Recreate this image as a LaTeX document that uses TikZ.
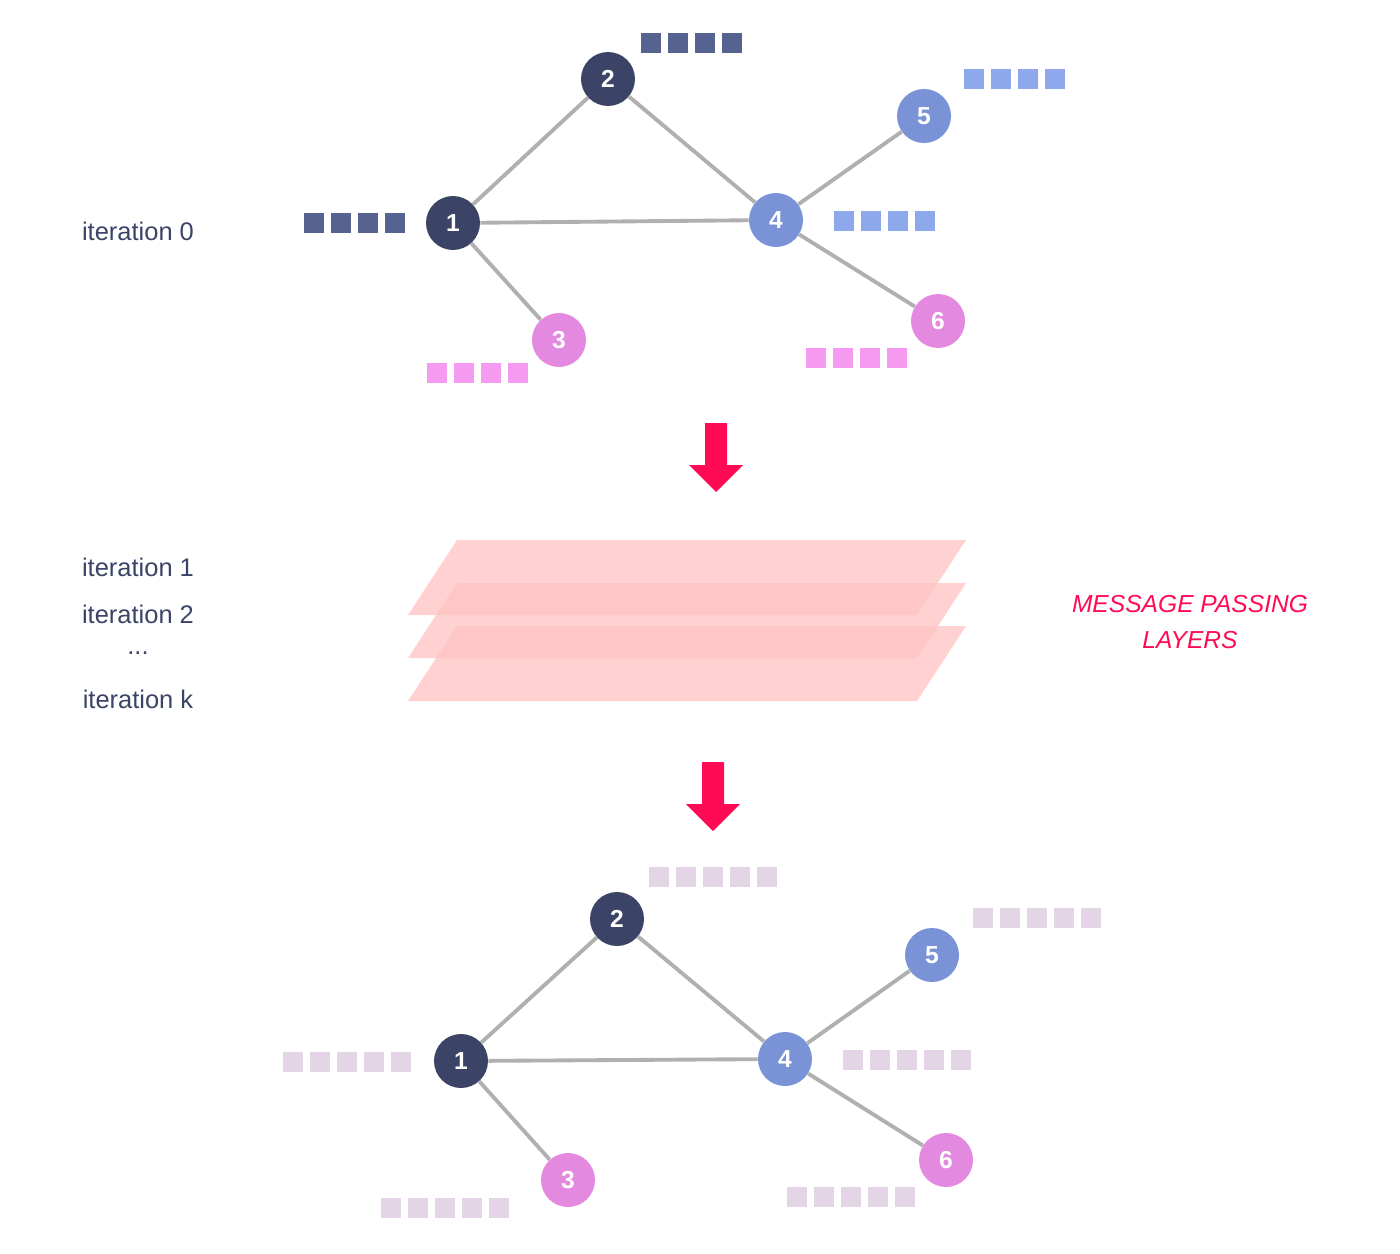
\documentclass[tikz,border=0pt]{standalone}
\usepackage{fontspec}
\setmainfont{Liberation Sans}
\definecolor{navy}{HTML}{3B4466}
\definecolor{mblue}{HTML}{7A93D6}
\definecolor{mpink}{HTML}{E38AE0}
\definecolor{sqnavy}{HTML}{56628F}
\definecolor{sqblue}{HTML}{8EA8EC}
\definecolor{sqpink}{HTML}{F59AF0}
\definecolor{sqlight}{HTML}{E3D5E6}
\definecolor{edgegray}{HTML}{B0B0B0}
\definecolor{hotred}{HTML}{FF0A54}
\definecolor{plane}{HTML}{FFC2C2}
\begin{document}
\begin{tikzpicture}[x=0.02cm, y=-0.02cm,
    vertex/.style={circle, minimum size=1.08cm, inner sep=0pt, text=white, font=\bfseries\fontsize{14}{16}\selectfont},
    edge/.style={draw=edgegray, line width=2.2pt},
    sq/.style={minimum size=0.4cm, inner sep=0pt},
    lbl/.style={text=navy, font=\fontsize{14.5}{17}\selectfont},
    layer/.style={fill=plane, fill opacity=0.75, draw=none},
    bigarrow/.style={fill=hotred, draw=none}]
    \useasboundingbox (0,0) rectangle (1400,1254);

    % Beschriftung links
    \node[lbl] (it0) at (138,231) {iteration 0};
    \node[lbl] (it1) at (138,567) {iteration 1};
    \node[lbl] (it2) at (138,614) {iteration 2};
    \node[lbl] (itd) at (138,653) {...};
    \node[lbl] (itk) at (138,699) {iteration k};

    % Graph vorher
    \node[vertex, fill=navy] (a1) at (453,223) {1};
    \node[vertex, fill=navy] (a2) at (608,79) {2};
    \node[vertex, fill=mpink] (a3) at (559,340) {3};
    \node[vertex, fill=mblue] (a4) at (776,220) {4};
    \node[vertex, fill=mblue] (a5) at (924,116) {5};
    \node[vertex, fill=mpink] (a6) at (938,321) {6};
    \begin{scope}[on background layer/.try]
    \draw[edge] (a1) -- (a2);
    \draw[edge] (a1) -- (a4);
    \draw[edge] (a1) -- (a3);
    \draw[edge] (a2) -- (a4);
    \draw[edge] (a4) -- (a5);
    \draw[edge] (a4) -- (a6);
    \end{scope}

    % Merkmalsvektoren vorher
    \foreach \i in {0,...,3} {
        \node[sq, fill=sqnavy] (f1\i) at (314+27*\i,223) {};
        \node[sq, fill=sqnavy] (f2\i) at (651+27*\i,43) {};
        \node[sq, fill=sqpink] (f3\i) at (437+27*\i,373) {};
        \node[sq, fill=sqblue] (f4\i) at (844+27*\i,221) {};
        \node[sq, fill=sqblue] (f5\i) at (974+27*\i,79) {};
        \node[sq, fill=sqpink] (f6\i) at (816+27*\i,358) {};
    }

    % Pfeil oben
    \fill[bigarrow] (705,423) -- (727,423) -- (727,465) -- (743,465) -- (716,492) -- (689,465) -- (705,465) -- cycle;

    % Schichten
    \foreach \d in {0,43,86} {
        \fill[layer] (408,615+\d) -- (457,540+\d) -- (966,540+\d) -- (917,615+\d) -- cycle;
    }
    \node[text=hotred, font=\itshape\fontsize{14}{17}\selectfont, align=center] (mpl) at (1190,622) {MESSAGE PASSING\\[3pt]LAYERS};

    % Pfeil unten
    \fill[bigarrow] (702,762) -- (724,762) -- (724,804) -- (740,804) -- (713,831) -- (686,804) -- (702,804) -- cycle;

    % Graph nachher
    \node[vertex, fill=navy] (b1) at (461,1061) {1};
    \node[vertex, fill=navy] (b2) at (617,919) {2};
    \node[vertex, fill=mpink] (b3) at (568,1180) {3};
    \node[vertex, fill=mblue] (b4) at (785,1059) {4};
    \node[vertex, fill=mblue] (b5) at (932,955) {5};
    \node[vertex, fill=mpink] (b6) at (946,1160) {6};
    \draw[edge] (b1) -- (b2);
    \draw[edge] (b1) -- (b4);
    \draw[edge] (b1) -- (b3);
    \draw[edge] (b2) -- (b4);
    \draw[edge] (b4) -- (b5);
    \draw[edge] (b4) -- (b6);

    % Merkmalsvektoren nachher
    \foreach \i in {0,...,4} {
        \node[sq, fill=sqlight] (g1\i) at (293+27*\i,1062) {};
        \node[sq, fill=sqlight] (g2\i) at (659+27*\i,877) {};
        \node[sq, fill=sqlight] (g3\i) at (391+27*\i,1208) {};
        \node[sq, fill=sqlight] (g4\i) at (853+27*\i,1060) {};
        \node[sq, fill=sqlight] (g5\i) at (983+27*\i,918) {};
        \node[sq, fill=sqlight] (g6\i) at (797+27*\i,1197) {};
    }
\end{tikzpicture}
\end{document}
